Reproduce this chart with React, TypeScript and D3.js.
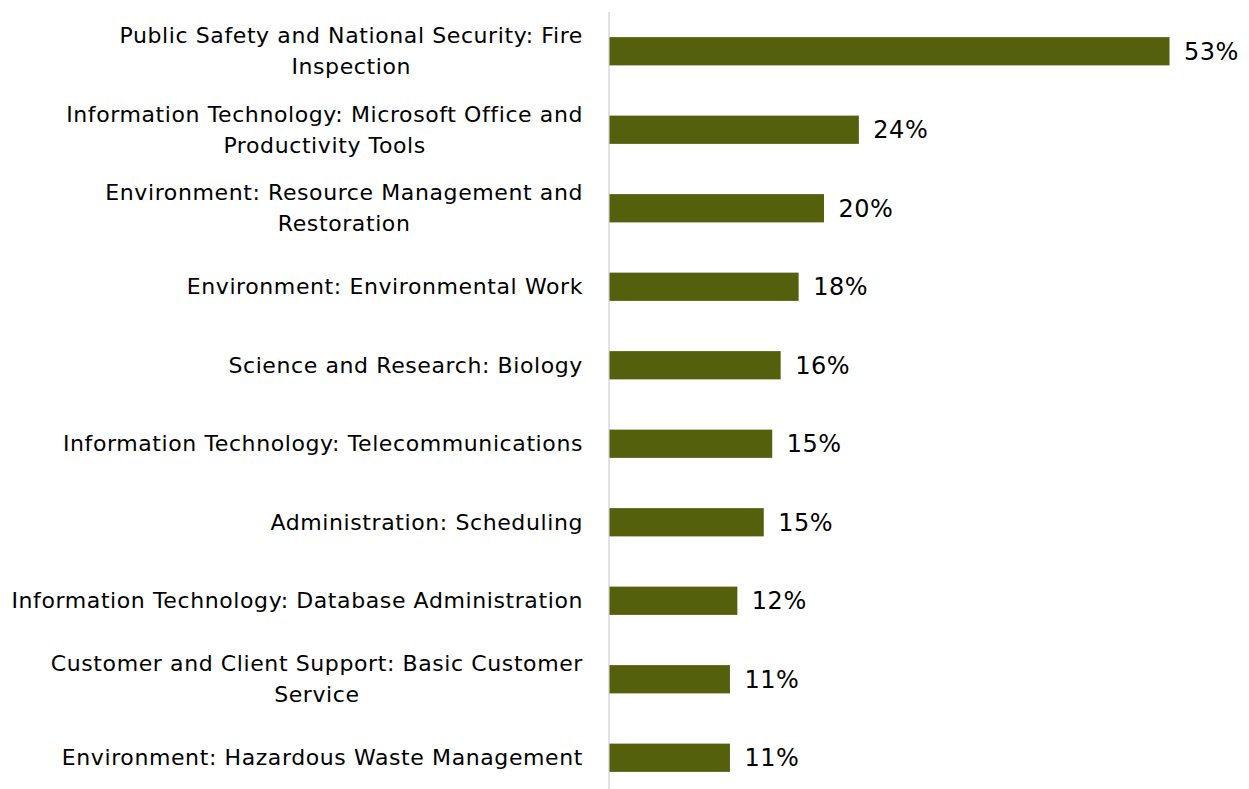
import React from "react";
import * as d3 from "d3";

const categories = [
  "Public Safety and National Security: Fire\nInspection",
  "Information Technology: Microsoft Office and\nProductivity Tools",
  "Environment: Resource Management and\nRestoration",
  "Environment: Environmental Work",
  "Science and Research: Biology",
  "Information Technology: Telecommunications",
  "Administration: Scheduling",
  "Information Technology: Database Administration",
  "Customer and Client Support: Basic Customer\nService",
  "Environment: Hazardous Waste Management",
];
const values = [53, 23.6, 20.3, 17.9, 16.2, 15.4, 14.6, 12.1, 11.4, 11.4];

const W = 1249;
const H = 789;
const FONT = "'DejaVu Sans', sans-serif";
const LABEL_SIZE = 22;
const LABEL_SPACING = 0.6;
const VALUE_SIZE = 24;

function MultiLine({ lines, y0, lh }: { lines: string[]; y0: number; lh: number }) {
  const ref = React.useRef<SVGGElement>(null);
  React.useLayoutEffect(() => {
    const g = d3.select(ref.current);
    g.selectAll("*").remove();
    const texts = lines.map((l, j) =>
      g
        .append("text")
        .attr("y", y0 + j * lh)
        .attr("dy", "0.35em")
        .attr("font-family", FONT)
        .attr("font-size", LABEL_SIZE)
        .attr("letter-spacing", LABEL_SPACING)
        .attr("fill", "#000")
        .attr("text-anchor", "middle")
        .text(l)
    );
    const widths = texts.map((t) => (t.node() as SVGTextElement).getComputedTextLength());
    const maxW = Math.max(...widths);
    const center = 583 - maxW / 2;
    texts.forEach((t) => t.attr("x", center));
  }, [lines, y0, lh]);
  return <g ref={ref} />;
}

export default function App() {
  const x = d3.scaleLinear().domain([0, 53]).range([609, 1169]);
  const y = d3
    .scaleBand<number>()
    .domain(d3.range(categories.length))
    .range([12, 797])
    .paddingInner(0.64)
    .paddingOuter(0.32);
  const bw = y.bandwidth();
  return (
    <svg
      width={W}
      height={H}
      style={{ position: "absolute", left: 0, top: 0, background: "#fff" }}
    >
      <line x1={609} x2={609} y1={12} y2={H} stroke="#d9d9d9" strokeWidth={1.5} />
      {categories.map((c, i) => {
        const cy = (y(i) as number) + bw / 2;
        const lines = c.split("\n");
        const lh = 31;
        const y0 = cy - ((lines.length - 1) * lh) / 2;
        return (
          <g key={i}>
            <rect
              x={x(0) + 0.5}
              y={y(i)}
              width={x(values[i]) - x(0)}
              height={bw}
              fill="#55600d"
            />
            <MultiLine lines={lines} y0={y0} lh={lh} />
            <text
              x={x(values[i]) + 15}
              y={cy}
              dy="0.35em"
              fontFamily={FONT}
              fontSize={VALUE_SIZE}
              letterSpacing={0.5}
              fill="#000"
            >
              {Math.round(values[i]) + "%"}
            </text>
          </g>
        );
      })}
    </svg>
  );
}
